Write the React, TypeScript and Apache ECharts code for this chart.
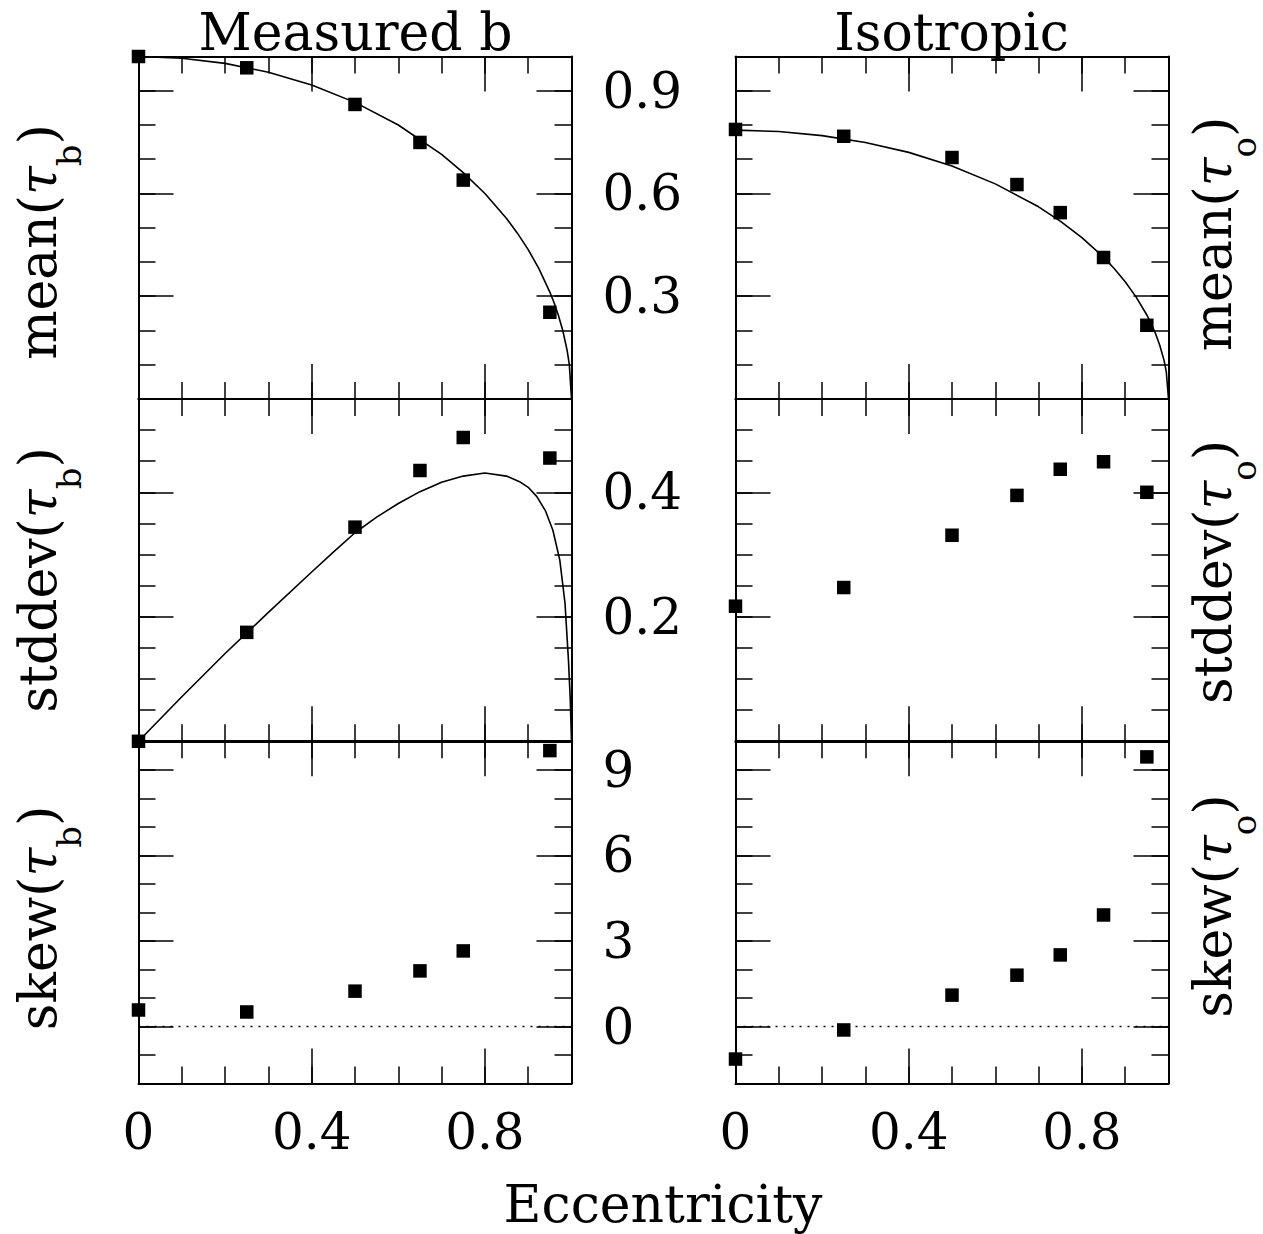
import React, { useEffect, useRef } from "react";
import * as echarts from "echarts";

const FONT = "DejaVu Serif";

// ---------- axis ticks / labels ----------
const xMin = 0;
const xMax = 1;
const xMinorStep = 0.1;
const xMajorTicks = [0, 0.4, 0.8];
const xTickLabels = [0, 0.4, 0.8];

const meanMin = 0;
const meanMax = 1;
const meanMinorStep = 0.1;
const meanMajorTicks = [0, 0.3, 0.6, 0.9];
const meanTickLabels = [0.3, 0.6, 0.9];

const sdMin = 0;
const sdMax = 0.55;
const sdMinorStep = 0.05;
const sdMajorTicks = [0, 0.2, 0.4];
const sdTickLabels = [0.2, 0.4];

const skewMin = -2;
const skewMax = 10;
const skewMinorStep = 1;
const skewMajorTicks = [0, 3, 6, 9];
const skewTickLabels = [0, 3, 6, 9];

// ---------- data ----------
const eccMeasured = [0, 0.25, 0.5, 0.65, 0.75, 0.95];
const eccIsotropic = [0, 0.25, 0.5, 0.65, 0.75, 0.85, 0.95];

const meanTauB = [1.0, 0.967, 0.86, 0.749, 0.639, 0.253];
const sdTauB = [0, 0.175, 0.344, 0.435, 0.488, 0.455];
const skewTauB = [0.58, 0.51, 1.24, 1.95, 2.65, 9.67];

const meanTauO = [0.787, 0.767, 0.705, 0.626, 0.544, 0.413, 0.215];
const sdTauO = [0.217, 0.247, 0.331, 0.395, 0.437, 0.449, 0.4];
const skewTauO = [-1.14, -0.12, 1.1, 1.8, 2.51, 3.91, 9.45];

// model curves
const curveEcc = [0, 0.1, 0.2, 0.3, 0.4, 0.5, 0.6, 0.7, 0.75, 0.8, 0.85, 0.875, 0.9, 0.925, 0.95, 0.96, 0.97, 0.98, 0.99, 0.995, 1.0];
const curveMeanB = [1.0, 0.995, 0.98, 0.954, 0.917, 0.866, 0.8, 0.714, 0.661, 0.6, 0.527, 0.484, 0.436, 0.38, 0.312, 0.28, 0.243, 0.199, 0.141, 0.1, 0];
const curveMeanO = [0.785, 0.781, 0.769, 0.749, 0.72, 0.68, 0.628, 0.561, 0.519, 0.471, 0.414, 0.38, 0.342, 0.298, 0.245, 0.22, 0.191, 0.156, 0.111, 0.078, 0];

const sdCurveEcc = [0, 0.1, 0.2, 0.3, 0.4, 0.45, 0.5, 0.55, 0.6, 0.65, 0.7, 0.75, 0.8, 0.85, 0.88, 0.9, 0.92, 0.94, 0.957, 0.973, 0.985, 0.993, 0.997, 1.0];
const curveSdB = [0, 0.0715, 0.141, 0.207, 0.272, 0.304, 0.335, 0.36, 0.382, 0.401, 0.416, 0.426, 0.431, 0.426, 0.417, 0.408, 0.393, 0.37, 0.339, 0.291, 0.222, 0.13, 0.07, 0];

const zeroLineX = [0, 1];
const zeroLineY = [0, 0];

// ---------- text ----------
const titleLeft = "Measured b";
const titleRight = "Isotropic";
const xTitle = "Eccentricity";
const yNames = ["mean", "stddev", "skew"];
const subLeft = "b";
const subRight = "o";

// ---------- layout ----------
const GRID_LEFT = [138.5, 735.5];
const GRID_TOP = [56.5, 398.9, 741.2];
const GRID_W = 433;
const GRID_H = 342.4;

const zip = (a: number[], b: number[]) => a.map((v, i) => [v, b[i]]);

const rows = [
  { min: meanMin, max: meanMax, step: meanMinorStep, majors: meanMajorTicks, labels: meanTickLabels },
  { min: sdMin, max: sdMax, step: sdMinorStep, majors: sdMajorTicks, labels: sdTickLabels },
  { min: skewMin, max: skewMax, step: skewMinorStep, majors: skewMajorTicks, labels: skewTickLabels },
];

const panels: any[] = [
  { col: 0, row: 0, px: eccMeasured, py: meanTauB, cx: curveEcc, cy: curveMeanB },
  { col: 0, row: 1, px: eccMeasured, py: sdTauB, cx: sdCurveEcc, cy: curveSdB },
  { col: 0, row: 2, px: eccMeasured, py: skewTauB, zero: true },
  { col: 1, row: 0, px: eccIsotropic, py: meanTauO, cx: curveEcc, cy: curveMeanO },
  { col: 1, row: 1, px: eccIsotropic, py: sdTauO },
  { col: 1, row: 2, px: eccIsotropic, py: skewTauO, zero: true },
];

const tickLine = { color: "#000", width: 1.5 };

function minorAxis(g: number, pos: string, min: number, max: number, step: number) {
  return {
    type: "value",
    gridIndex: g,
    position: pos,
    min,
    max,
    interval: step,
    axisLine: { show: true, onZero: false, lineStyle: { color: "#000", width: 2 } },
    axisTick: { show: true, inside: true, length: 17, lineStyle: tickLine },
    axisLabel: { show: false },
    splitLine: { show: false },
  };
}

function majorAxis(
  g: number,
  pos: string,
  min: number,
  max: number,
  step: number,
  majors: number[],
  labels: number[] | null,
  margin: number
) {
  return {
    type: "value",
    gridIndex: g,
    position: pos,
    min,
    max,
    interval: step,
    axisLine: { show: false, onZero: false },
    axisTick: { show: true, inside: true, length: 35, customValues: majors, lineStyle: tickLine },
    axisLabel: labels
      ? {
          show: true,
          customValues: labels,
          formatter: (v: number) => String(v),
          fontSize: 50,
          fontFamily: FONT,
          color: "#000",
          margin,
        }
      : { show: false },
    splitLine: { show: false },
  };
}

const yTitlePos = [
  // [x, y] of left column, then right column
  [[37.7, 242], [37.7, 580], [37.7, 918]],
  [[1212.7, 234], [1212.7, 572], [1212.7, 906]],
];

export default function App() {
  const ref = useRef<HTMLDivElement>(null);
  useEffect(() => {
    if (!ref.current) return;
    const chart = echarts.init(ref.current, null, { renderer: "svg" });
    const grids: any[] = [];
    const xAxes: any[] = [];
    const yAxes: any[] = [];
    const series: any[] = [];

    panels.forEach((p, g) => {
      grids.push({ left: GRID_LEFT[p.col], top: GRID_TOP[p.row], width: GRID_W, height: GRID_H, show: false });
      const ry = rows[p.row];
      for (const pos of ["bottom", "top"]) {
        xAxes.push(minorAxis(g, pos, xMin, xMax, xMinorStep));
        xAxes.push(
          majorAxis(g, pos, xMin, xMax, xMinorStep, xMajorTicks, pos === "bottom" && p.row === 2 ? xTickLabels : null, 23)
        );
      }
      for (const pos of ["left", "right"]) {
        yAxes.push(minorAxis(g, pos, ry.min, ry.max, ry.step));
        yAxes.push(
          majorAxis(g, pos, ry.min, ry.max, ry.step, ry.majors, pos === "right" && p.col === 0 ? ry.labels : null, 31)
        );
      }
      const xi = g * 4;
      const yi = g * 4;
      if (p.zero) {
        series.push({
          type: "line",
          xAxisIndex: xi,
          yAxisIndex: yi,
          data: zip(zeroLineX, zeroLineY),
          symbol: "none",
          lineStyle: { color: "#000", width: 1.5, type: [2, 6], opacity: 1 },
          clip: false,
          silent: true,
        });
      }
      if (p.cx) {
        series.push({
          type: "line",
          xAxisIndex: xi,
          yAxisIndex: yi,
          data: zip(p.cx, p.cy),
          symbol: "none",
          lineStyle: { color: "#000", width: 1.6, opacity: 1 },
          clip: false,
          silent: true,
        });
      }
      series.push({
        type: "scatter",
        xAxisIndex: xi,
        yAxisIndex: yi,
        data: zip(p.px, p.py),
        symbol: "rect",
        symbolSize: 13.5,
        itemStyle: { color: "#000", opacity: 1 },
        clip: false,
        silent: true,
      });
    });

    const rich = {
      m: { fontSize: 52, fontFamily: FONT, fill: "#000", lineHeight: 96, verticalAlign: "middle" },
      t: { fontSize: 52, fontFamily: FONT, fontStyle: "italic", fill: "#000", lineHeight: 96, verticalAlign: "middle" },
      s: { fontSize: 34, fontFamily: FONT, fill: "#000", lineHeight: 60, verticalAlign: "bottom" },
    };

    const titleStyle = (text: string) => ({
      text,
      fontSize: 52,
      lineHeight: 52,
      fontFamily: FONT,
      fill: "#000",
      align: "center",
      verticalAlign: "middle",
    });

    const graphic: any[] = [
      { type: "text", x: 355.5, y: 32, style: titleStyle(titleLeft) },
      { type: "text", x: 951.5, y: 32, style: titleStyle(titleRight) },
      { type: "text", x: 663, y: 1203.5, style: titleStyle(xTitle) },
    ];
    [subLeft, subRight].forEach((sub, c) => {
      yNames.forEach((name, r) => {
        const [x, y] = yTitlePos[c][r];
        graphic.push({
          type: "text",
          x,
          y,
          rotation: Math.PI / 2,
          style: {
            text: `{m|${name}(}{t|τ}{s|${sub}}{m|)}`,
            rich,
            align: "center",
            verticalAlign: "middle",
          },
        });
      });
    });

    chart.setOption({
      animation: false,
      backgroundColor: "#fff",
      grid: grids,
      xAxis: xAxes,
      yAxis: yAxes,
      series,
      graphic,
    });
    return () => chart.dispose();
  }, []);
  return <div ref={ref} style={{ position: "absolute", left: 0, top: 0, width: 1263, height: 1234 }} />;
}
